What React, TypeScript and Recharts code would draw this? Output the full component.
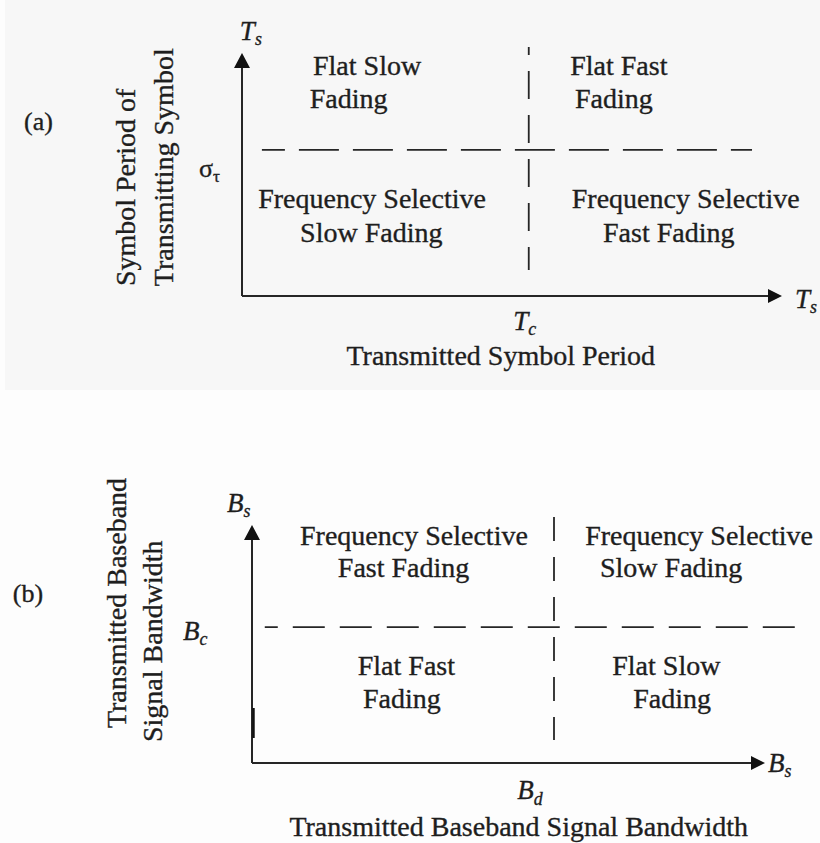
import React from "react";
import { ScatterChart, XAxis, YAxis, ReferenceLine, ReferenceDot } from "recharts";

const SERIF = '"Liberation Serif", "Times New Roman", Times, serif';
const INK = "#1e1e1e";
const LINE = "#262626";
const DOMAIN: [number, number] = [0, 10];

// Panel (a): fading classes by transmitted symbol period
const tagA = "(a)";
const xTitleA = "Transmitted Symbol Period";
const yTitleA = ["Symbol Period of", "Transmitting Symbol"];
const axisSymbolA: [string, string] = ["T", "s"];
const xMarkA: [string, string] = ["T", "c"];
const yMarkA: [string, string] = ["σ", "τ"];
const xThresholdA = 5.33; // T_c
const yThresholdA = 6.06; // σ_τ
const regionsA = [
  ["Flat Slow", "Fading"],
  ["Flat Fast", "Fading"],
  ["Frequency Selective", "Slow Fading"],
  ["Frequency Selective", "Fast Fading"],
];

// Panel (b): fading classes by baseband signal bandwidth
const tagB = "(b)";
const xTitleB = "Transmitted Baseband Signal Bandwidth";
const yTitleB = ["Transmitted Baseband", "Signal Bandwidth"];
const axisSymbolB: [string, string] = ["B", "s"];
const xMarkB: [string, string] = ["B", "d"];
const yMarkB: [string, string] = ["B", "c"];
const xThresholdB = 5.91; // B_d
const yThresholdB = 5.76; // B_c
const regionsB = [
  ["Frequency Selective", "Fast Fading"],
  ["Frequency Selective", "Slow Fading"],
  ["Flat Fast", "Fading"],
  ["Flat Slow", "Fading"],
];

type Pt = [number, number];

interface Layout {
  height: number;
  margin: { top: number; right: number; bottom: number; left: number };
  tag: Pt;
  xTitle: Pt;
  yTitle: Pt[];
  axisTop: Pt;
  axisRight: Pt;
  xMark: Pt;
  yMark: Pt;
  yMarkItalic: boolean;
  yMarkSize: number;
  regions: Pt[][];
  hSpan: Pt;
  vSpan: Pt;
  hDash: string;
  hOffset: number;
  vDash: string;
  vOffset: number;
  axisStroke?: { x: number; y: Pt };
}

const layoutA: Layout = {
  height: 390,
  margin: { top: 55, right: 40, bottom: 94, left: 242 },
  tag: [-4.05, 6.89],
  xTitle: [4.81, -2.86],
  yTitle: [
    [-1.99, 0.41],
    [-1.28, 0.41],
  ],
  axisTop: [-0.04, 10.62],
  axisRight: [10.28, -0.5],
  xMark: [5.04, -1.41],
  yMark: [-0.8, 4.94],
  yMarkItalic: false,
  yMarkSize: 26,
  regions: [
    [[1.32, 9.17], [1.26, 7.8]],
    [[6.1, 9.17], [6.19, 7.8]],
    [[0.3, 3.65], [1.08, 2.24]],
    [[6.13, 3.65], [6.71, 2.24]],
  ],
  hSpan: [0.37, 9.48],
  vSpan: [1.08, 10.33],
  hDash: "40 14",
  hOffset: 17,
  vDash: "28 16",
  vOffset: 20,
};

const layoutB: Layout = {
  height: 453,
  margin: { top: 137, right: 57, bottom: 80, left: 252 },
  tag: [-4.68, 6.82],
  xTitle: [5.22, -3.09],
  yTitle: [
    [-2.47, 1.48],
    [-1.76, 0.89],
  ],
  axisTop: [-0.49, 10.64],
  axisRight: [10.1, -0.38],
  xMark: [5.19, -1.53],
  yMark: [-1.35, 5.21],
  yMarkItalic: true,
  yMarkSize: 27,
  regions: [
    [[0.94, 9.24], [1.68, 7.88]],
    [[6.52, 9.24], [6.81, 7.88]],
    [[2.07, 3.73], [2.17, 2.33]],
    [[7.05, 3.73], [7.46, 2.33]],
  ],
  hSpan: [0.25, 10.63],
  vSpan: [0.97, 10.42],
  hDash: "32 15",
  hOffset: 19,
  vDash: "24 16",
  vOffset: 0,
  axisStroke: { x: 0.03, y: [1.06, 2.33] },
};

const textStyle = { fontFamily: SERIF, fill: INK, stroke: INK, strokeWidth: 0.35 } as const;

function symbolText(
  cx: number,
  cy: number,
  [main, sub]: [string, string],
  italic: boolean,
  size: number
) {
  return (
    <text x={cx} y={cy} style={{ ...textStyle, fontSize: size, fontStyle: italic ? "italic" : "normal" }}>
      {main}
      <tspan style={{ fontSize: size * 0.66 }} dy={size * 0.2}>
        {sub}
      </tspan>
    </text>
  );
}

function textDot(
  key: string,
  [x, y]: Pt,
  render: (cx: number, cy: number) => React.ReactElement
) {
  return (
    <ReferenceDot
      key={key}
      x={x}
      y={y}
      r={0}
      ifOverflow="visible"
      shape={(p: any) => render(p.cx, p.cy)}
    />
  );
}

interface PanelProps {
  layout: Layout;
  tag: string;
  xTitle: string;
  yTitle: string[];
  axisSymbol: [string, string];
  xMark: [string, string];
  yMark: [string, string];
  xThreshold: number;
  yThreshold: number;
  regions: string[][];
}

function Panel(props: PanelProps) {
  const { layout: L } = props;
  const plain = (content: string, size: number, anchor: "start" | "middle" = "start") =>
    (cx: number, cy: number) => (
      <text x={cx} y={cy} style={{ ...textStyle, fontSize: size }} textAnchor={anchor}>
        {content}
      </text>
    );

  return (
    <ScatterChart width={820} height={L.height} margin={L.margin}>
      <XAxis type="number" dataKey="x" domain={DOMAIN} allowDataOverflow hide />
      <YAxis type="number" dataKey="y" domain={DOMAIN} allowDataOverflow hide />

      {/* the two axes */}
      <ReferenceLine
        ifOverflow="visible"
        segment={[
          { x: DOMAIN[0], y: DOMAIN[0] },
          { x: DOMAIN[1], y: DOMAIN[0] },
        ]}
        stroke={LINE}
        strokeWidth={2}
      />
      <ReferenceLine
        ifOverflow="visible"
        segment={[
          { x: DOMAIN[0], y: DOMAIN[0] },
          { x: DOMAIN[0], y: DOMAIN[1] },
        ]}
        stroke={LINE}
        strokeWidth={2}
      />

      {/* threshold lines splitting the four fading regions */}
      <ReferenceLine
        ifOverflow="visible"
        segment={[
          { x: L.hSpan[0], y: props.yThreshold },
          { x: L.hSpan[1], y: props.yThreshold },
        ]}
        stroke={LINE}
        strokeWidth={1.8}
        strokeDasharray={L.hDash}
        strokeDashoffset={L.hOffset}
      />
      <ReferenceLine
        ifOverflow="visible"
        segment={[
          { x: props.xThreshold, y: L.vSpan[1] },
          { x: props.xThreshold, y: L.vSpan[0] },
        ]}
        stroke={LINE}
        strokeWidth={1.8}
        strokeDasharray={L.vDash}
        strokeDashoffset={L.vOffset}
      />
      {L.axisStroke && (
        <ReferenceLine
          ifOverflow="visible"
          segment={[
            { x: L.axisStroke.x, y: L.axisStroke.y[0] },
            { x: L.axisStroke.x, y: L.axisStroke.y[1] },
          ]}
          stroke="#111"
          strokeWidth={2.4}
        />
      )}

      {/* arrow heads on both axes */}
      <ReferenceDot
        x={DOMAIN[1]}
        y={DOMAIN[0]}
        r={0}
        ifOverflow="visible"
        shape={(p: any) => (
          <path d={`M${p.cx + 2},${p.cy} L${p.cx - 12},${p.cy - 7} L${p.cx - 12},${p.cy + 7} Z`} fill="#111" />
        )}
      />
      <ReferenceDot
        x={DOMAIN[0]}
        y={DOMAIN[1]}
        r={0}
        ifOverflow="visible"
        shape={(p: any) => (
          <path d={`M${p.cx},${p.cy - 2} L${p.cx - 8},${p.cy + 13} L${p.cx + 8},${p.cy + 13} Z`} fill="#111" />
        )}
      />

      {/* axis symbols */}
      {textDot("sym-top", L.axisTop, (cx, cy) => symbolText(cx, cy, props.axisSymbol, true, 27))}
      {textDot("sym-right", L.axisRight, (cx, cy) => symbolText(cx, cy, props.axisSymbol, true, 27))}
      {textDot("mark-x", L.xMark, (cx, cy) => symbolText(cx, cy, props.xMark, true, 27))}
      {textDot("mark-y", L.yMark, (cx, cy) => symbolText(cx, cy, props.yMark, L.yMarkItalic, L.yMarkSize))}

      {/* titles */}
      {textDot("tag", L.tag, plain(props.tag, 26))}
      {textDot("x-title", L.xTitle, plain(props.xTitle, 28, "middle"))}
      {props.yTitle.map((line, i) =>
        textDot(`y-title-${i}`, L.yTitle[i], (cx, cy) => (
          <text x={cx} y={cy} style={{ ...textStyle, fontSize: 28 }} transform={`rotate(-90 ${cx} ${cy})`}>
            {line}
          </text>
        ))
      )}

      {/* region names */}
      {props.regions.map((lines, r) =>
        lines.map((line, i) => textDot(`region-${r}-${i}`, L.regions[r][i], plain(line, 28)))
      )}
    </ScatterChart>
  );
}

export default function App() {
  return (
    <div
      style={{
        position: "absolute",
        left: 0,
        top: 0,
        width: 820,
        height: 843,
        background: "#fdfdfd",
        overflow: "hidden",
      }}
    >
      <div style={{ position: "absolute", left: 5, top: 0, width: 815, height: 390, background: "#f7f7f7" }} />
      <div style={{ position: "absolute", left: 0, top: 0 }}>
        <Panel
          layout={layoutA}
          tag={tagA}
          xTitle={xTitleA}
          yTitle={yTitleA}
          axisSymbol={axisSymbolA}
          xMark={xMarkA}
          yMark={yMarkA}
          xThreshold={xThresholdA}
          yThreshold={yThresholdA}
          regions={regionsA}
        />
      </div>
      <div style={{ position: "absolute", left: 0, top: 390 }}>
        <Panel
          layout={layoutB}
          tag={tagB}
          xTitle={xTitleB}
          yTitle={yTitleB}
          axisSymbol={axisSymbolB}
          xMark={xMarkB}
          yMark={yMarkB}
          xThreshold={xThresholdB}
          yThreshold={yThresholdB}
          regions={regionsB}
        />
      </div>
    </div>
  );
}
